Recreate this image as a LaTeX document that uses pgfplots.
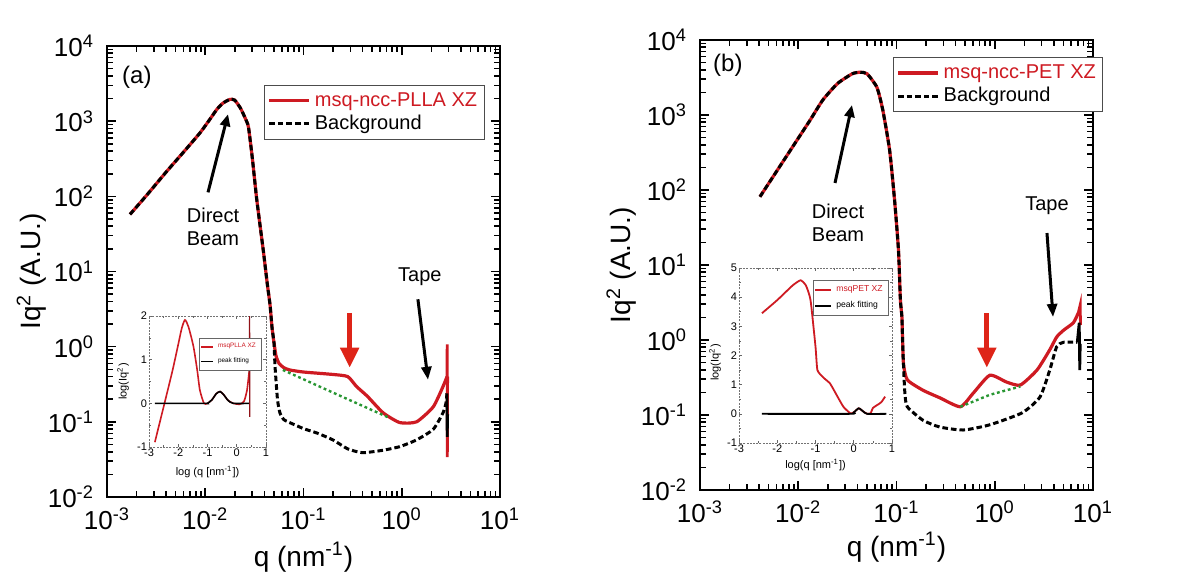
\documentclass[border=0pt]{standalone}
\usepackage{fontspec}
\setmainfont{Liberation Sans}
\usepackage{pgfplots}
\pgfplotsset{compat=1.18}
\usetikzlibrary{arrows.meta}

\definecolor{curvered}{RGB}{206,26,34}
\definecolor{arrowred}{RGB}{222,36,24}
\definecolor{fitgreen}{RGB}{40,150,50}

\newcommand{\sus}[1]{\textsuperscript{#1}}

\tikzset{
  redline/.style={curvered, line width=1.6pt},
  bgline/.style={black, line width=1.5pt, dash pattern=on 2.8pt off 1.5pt},
  greenline/.style={fitgreen, line width=1.2pt, dash pattern=on 1.4pt off 1.4pt},
}

\begin{document}
\begin{tikzpicture}
\useasboundingbox (0,0) rectangle (594pt,287.5pt);

% ---------------- panel (a) ----------------
\begin{loglogaxis}[
  at={(53.5pt,39pt)}, anchor=south west,
  scale only axis, width=196.5pt, height=225.5pt,
  xmin=1e-3, xmax=10, ymin=1e-2, ymax=1e4,
  xtick={1e-3,1e-2,1e-1,1,10},
  xticklabels={10\sus{-3},10\sus{-2},10\sus{-1},10\sus{0},10\sus{1}},
  ytick={1e-2,1e-1,1,10,100,1000,1e4},
  yticklabels={10\sus{-2},10\sus{-1},10\sus{0},10\sus{1},10\sus{2},10\sus{3},10\sus{4}},
  extra x ticks={0.002,0.003,0.004,0.005,0.006,0.007,0.008,0.009,
    0.02,0.03,0.04,0.05,0.06,0.07,0.08,0.09,0.2,0.3,0.4,0.5,0.6,0.7,0.8,0.9,
    2,3,4,5,6,7,8,9},
  extra y ticks={0.02,0.03,0.04,0.05,0.06,0.07,0.08,0.09,0.2,0.3,0.4,0.5,0.6,0.7,0.8,0.9,
    2,3,4,5,6,7,8,9,20,30,40,50,60,70,80,90,200,300,400,500,600,700,800,900,
    2000,3000,4000,5000,6000,7000,8000,9000},
  extra x tick labels={}, extra y tick labels={},
  extra x tick style={major tick length=2.2pt},
  extra y tick style={major tick length=2.2pt},
  major tick length=4.5pt,
  tick style={draw=black, line width=0.8pt},
  axis on top,
  axis line style={line width=1.3pt},
  ticklabel style={font=\fontsize{13}{13}\selectfont},
  yticklabel style={xshift=-3pt},
  xticklabel style={yshift=-2pt},
  label style={font=\fontsize{14}{14}\selectfont},
  xlabel={q (nm\sus{-1})},
  ylabel={Iq\sus{2} (A.U.)},
  xlabel style={at={(axis description cs:0.5,-0.133)}, anchor=center},
  ylabel style={at={(axis description cs:-0.192,0.5)}, anchor=center},
  legend cell align=left,
  legend style={at={(0.40,0.914)}, anchor=north west, draw=black!70, line width=0.5pt,
    font=\fontsize{10}{11}\selectfont, inner sep=1.5pt, row sep=-1pt},
  legend image code/.code={\draw[#1] (0pt,0pt) -- (20pt,0pt);},
]
\addplot[redline, smooth, tension=0.35] coordinates {
 (0.001714,57.5) (0.002512,102) (0.003981,209) (0.006310,417) (0.008913,708)
 (0.01122,1072) (0.01318,1445) (0.01514,1738) (0.01786,1950) (0.01995,1905)
 (0.02291,1479) (0.02570,1072) (0.02754,832) (0.0302,316) (0.03342,91.2)
 (0.0389,19.5) (0.04266,7.08) (0.04571,3.55) (0.04786,1.778) (0.05012,1.122)
 (0.05248,0.759) (0.05623,0.603) (0.0631,0.525) (0.0724,0.49) (0.1,0.46)
 (0.1995,0.427) (0.2818,0.40) (0.3467,0.295) (0.4467,0.219) (0.6457,0.132)
 (0.955,0.0977) (1.413,0.100) (2.089,0.158) (2.630,0.295) (2.884,0.398)
};
\addlegendentry{\textcolor{curvered}{msq-ncc-PLLA XZ}}
\addplot[bgline, smooth, tension=0.35] coordinates {
 (0.001714,57.5) (0.002512,102) (0.003981,209) (0.006310,417) (0.008913,708)
 (0.01122,1072) (0.01318,1445) (0.01514,1738) (0.01786,1950) (0.01995,1905)
 (0.02291,1479) (0.02570,1072) (0.02754,832) (0.0302,316) (0.03342,91.2)
 (0.0389,19.5) (0.04266,7.08) (0.04571,3.55) (0.04786,1.778) (0.05012,1.122)
 (0.0513,0.55) (0.05433,0.20) (0.05754,0.1318) (0.0631,0.107) (0.07244,0.0977)
 (0.1,0.0813) (0.138,0.0708) (0.1995,0.0575) (0.2818,0.0437) (0.3981,0.0389)
 (0.631,0.0417) (0.955,0.0468) (1.413,0.0575) (2.089,0.0794) (2.630,0.1318)
 (2.818,0.178) (2.884,0.240)
};
\addlegendentry{Background}
% noisy ends of the two scans
\addplot[curvered, line width=1.4pt, forget plot] coordinates {
 (2.884,0.398) (2.90,1.07) (2.91,0.0339) (2.93,0.40)
};
\addplot[black, line width=1.4pt, forget plot] coordinates {
 (2.884,0.240) (2.90,0.0631) (2.93,0.126)
};
\addplot[greenline, forget plot] coordinates {
 (0.06166,0.490) (0.1995,0.245) (0.7586,0.112)
};
% annotations
\node[font=\fontsize{12}{12}\selectfont] at (rel axis cs:0.076,0.931) {(a)};
\node[font=\fontsize{10}{11.5}\selectfont, align=center] at (axis cs:0.0120,39.8) {Direct\\Beam};
\draw[black, line width=1.5pt, -{Triangle[width=5pt,length=6pt]}]
  (axis cs:0.01067,113) -- (axis cs:0.01706,1239);
\node[font=\fontsize{10}{10}\selectfont] at (axis cs:1.53,8.5) {Tape};
\draw[black, line width=1.5pt, -{Triangle[width=5pt,length=6.5pt]}]
  (axis cs:1.46,4.27) -- (axis cs:1.85,0.363);
\draw[arrowred, line width=2.5pt, -{Triangle[width=9pt,length=10pt]}]
  (axis cs:0.295,2.82) -- (axis cs:0.295,0.525);
\end{loglogaxis}

% inset of panel (a)
\begin{axis}[
  at={(74.5pt,64pt)}, anchor=south west, scale only axis, width=58.5pt, height=65.5pt,
  xmin=-3, xmax=1, xtick={-3,-2,-1,0,1},
  ymin=-1, ymax=2, ytick={-1,0,1,2},
  axis line style={black!55, line width=0.4pt, dash pattern=on 1pt off 0.6pt},
  axis background/.style={fill=white},
  major tick length=1.5pt, minor tick length=0.8pt,
  minor x tick num=1, minor y tick num=1,
  tick style={draw=black!60, line width=0.3pt},
  /pgf/number format/assume math mode=true,
  ticklabel style={font=\fontsize{5.5}{5.5}\selectfont, inner sep=0.8pt},
  label style={font=\fontsize{5.5}{6}\selectfont},
  xlabel={log (q [nm\sus{-1}])}, ylabel={log(Iq\sus{2})},
  xlabel style={at={(axis description cs:0.5,-0.19)}, anchor=center},
  ylabel style={at={(axis description cs:-0.222,0.5)}, anchor=center},
  legend cell align=left,
  legend style={at={(0.427,0.832)}, anchor=north west, draw=black!60, line width=0.3pt,
    inner sep=0.6pt, row sep=-0.6pt, font=\fontsize{3.2}{3.4}\selectfont},
  legend image code/.code={\draw[#1] (0pt,0pt) -- (6pt,0pt);},
]
\addplot[curvered, line width=0.8pt, smooth, tension=0.4] coordinates {
 (-2.8,-0.89) (-2.5,-0.08) (-2.2,0.74) (-2.0,1.35) (-1.88,1.72) (-1.77,1.91)
 (-1.65,1.75) (-1.48,1.30) (-1.35,0.75) (-1.26,0.30) (-1.12,0.0) (-1.0,0.0)
 (-0.85,0.08) (-0.7,0.22) (-0.57,0.27) (-0.45,0.20) (-0.3,0.07) (-0.12,0.0)
 (0.1,-0.02) (0.25,0.05) (0.35,0.30) (0.42,0.70)
};
\addlegendentry{\textcolor{curvered}{msqPLLA XZ}}
\addplot[black, line width=0.8pt, smooth, tension=0.4] coordinates {
 (-2.8,0) (-1.12,0) (-1.0,0.0) (-0.85,0.08) (-0.7,0.22) (-0.57,0.27)
 (-0.45,0.20) (-0.3,0.07) (-0.12,0.0) (0.45,0.0)
};
\addlegendentry{peak fitting}
\addplot[curvered!70!black, line width=0.6pt, forget plot] coordinates {
 (0.42,0.70) (0.44,2.0) (0.445,-0.31)
};
\end{axis}

% ---------------- panel (b) ----------------
\begin{loglogaxis}[
  at={(350pt,42.5pt)}, anchor=south west,
  scale only axis, width=196.5pt, height=225pt,
  xmin=1e-3, xmax=10, ymin=1e-2, ymax=1e4,
  xtick={1e-3,1e-2,1e-1,1,10},
  xticklabels={10\sus{-3},10\sus{-2},10\sus{-1},10\sus{0},10\sus{1}},
  ytick={1e-2,1e-1,1,10,100,1000,1e4},
  yticklabels={10\sus{-2},10\sus{-1},10\sus{0},10\sus{1},10\sus{2},10\sus{3},10\sus{4}},
  extra x ticks={0.002,0.003,0.004,0.005,0.006,0.007,0.008,0.009,
    0.02,0.03,0.04,0.05,0.06,0.07,0.08,0.09,0.2,0.3,0.4,0.5,0.6,0.7,0.8,0.9,
    2,3,4,5,6,7,8,9},
  extra y ticks={0.02,0.03,0.04,0.05,0.06,0.07,0.08,0.09,0.2,0.3,0.4,0.5,0.6,0.7,0.8,0.9,
    2,3,4,5,6,7,8,9,20,30,40,50,60,70,80,90,200,300,400,500,600,700,800,900,
    2000,3000,4000,5000,6000,7000,8000,9000},
  extra x tick labels={}, extra y tick labels={},
  extra x tick style={major tick length=2.2pt},
  extra y tick style={major tick length=2.2pt},
  major tick length=4.5pt,
  tick style={draw=black, line width=0.8pt},
  axis on top,
  axis line style={line width=1.3pt},
  ticklabel style={font=\fontsize{13}{13}\selectfont},
  yticklabel style={xshift=-3pt},
  xticklabel style={yshift=-2pt},
  label style={font=\fontsize{14}{14}\selectfont},
  xlabel={q (nm\sus{-1})},
  ylabel={Iq\sus{2} (A.U.)},
  xlabel style={at={(axis description cs:0.5,-0.127)}, anchor=center},
  ylabel style={at={(axis description cs:-0.2,0.5)}, anchor=center},
  legend cell align=left,
  legend style={at={(0.491,0.962)}, anchor=north west, draw=black!70, line width=0.5pt,
    font=\fontsize{10}{11}\selectfont, inner sep=1.5pt, row sep=-1pt},
  legend image code/.code={\draw[#1] (0pt,0pt) -- (20pt,0pt);},
]
\addplot[redline, smooth, tension=0.35] coordinates {
 (0.004074,81.3) (0.00631,195) (0.009772,468) (0.01318,851) (0.01778,1585)
 (0.02512,2630) (0.03548,3548) (0.04266,3715) (0.05012,3548) (0.0631,2344)
 (0.07244,1175) (0.08511,339) (0.0955,74.1) (0.1047,15.85) (0.1096,3.39)
 (0.1135,2.0) (0.1175,0.501) (0.1288,0.295) (0.1862,0.2138) (0.2754,0.1698)
 (0.4467,0.1288) (0.6026,0.195) (0.8913,0.339) (1.318,0.275) (1.820,0.251)
 (2.692,0.398) (3.631,0.741) (4.266,1.096) (5.012,1.349) (6.310,1.698)
 (7.079,2.291)
};
\addlegendentry{\textcolor{curvered}{msq-ncc-PET XZ}}
\addplot[bgline, smooth, tension=0.35] coordinates {
 (0.004074,81.3) (0.00631,195) (0.009772,468) (0.01318,851) (0.01778,1585)
 (0.02512,2630) (0.03548,3548) (0.04266,3715) (0.05012,3548) (0.0631,2344)
 (0.07244,1175) (0.08511,339) (0.0955,74.1) (0.1047,15.85) (0.1096,3.39)
 (0.1135,2.0) (0.1175,0.501) (0.1216,0.1995) (0.1288,0.1288) (0.1862,0.0851)
 (0.2754,0.0692) (0.4786,0.0631) (0.8913,0.0741) (1.905,0.1072) (2.884,0.1738)
 (3.631,0.398) (4.266,0.813) (5.012,0.933) (6.918,0.933)
};
\addlegendentry{Background}
% noisy ends of the two scans
\addplot[curvered, line width=1.4pt, forget plot] coordinates {
 (7.079,2.291) (7.413,2.951) (7.45,1.585)
};
\addplot[black, line width=1.4pt, forget plot] coordinates {
 (6.918,0.933) (7.244,1.698) (7.328,0.398) (7.413,0.891)
};
\addplot[greenline, forget plot] coordinates {
 (0.4467,0.1288) (0.8913,0.186) (1.820,0.24)
};
\node[font=\fontsize{12}{12}\selectfont] at (rel axis cs:0.071,0.944) {(b)};
\node[font=\fontsize{10}{11.5}\selectfont, align=center] at (axis cs:0.0254,36.3) {Direct\\Beam};
\draw[black, line width=1.5pt, -{Triangle[width=5pt,length=6pt]}]
  (axis cs:0.02366,124) -- (axis cs:0.03524,1358);
\node[font=\fontsize{10}{10}\selectfont] at (axis cs:3.40,61.2) {Tape};
\draw[black, line width=1.5pt, -{Triangle[width=5pt,length=6.5pt]}]
  (axis cs:3.40,26.7) -- (axis cs:3.92,2.03);
\draw[arrowred, line width=2.5pt, -{Triangle[width=9pt,length=10pt]}]
  (axis cs:0.83,2.29) -- (axis cs:0.83,0.427);
\end{loglogaxis}

% inset of panel (b)
\begin{axis}[
  at={(369.5pt,66pt)}, anchor=south west, scale only axis, width=76.5pt, height=87.5pt,
  xmin=-3, xmax=1, xtick={-3,-2,-1,0,1},
  ymin=-1, ymax=5, ytick={-1,0,1,2,3,4,5},
  axis line style={black!55, line width=0.4pt, dash pattern=on 1pt off 0.6pt},
  axis background/.style={fill=white},
  major tick length=1.5pt, minor tick length=0.8pt,
  minor x tick num=1, minor y tick num=1,
  tick style={draw=black!60, line width=0.3pt},
  /pgf/number format/assume math mode=true,
  ticklabel style={font=\fontsize{5.5}{5.5}\selectfont, inner sep=0.8pt},
  label style={font=\fontsize{5.5}{6}\selectfont},
  xlabel={log(q [nm\sus{-1}])}, ylabel={log(Iq\sus{2})},
  xlabel style={at={(axis description cs:0.5,-0.126)}, anchor=center},
  ylabel style={at={(axis description cs:-0.157,0.46)}, anchor=center},
  legend cell align=left,
  legend style={at={(0.484,0.931)}, anchor=north west, draw=black!60, line width=0.3pt,
    inner sep=0.6pt, row sep=-0.6pt, font=\fontsize{4.3}{4.6}\selectfont},
  legend image code/.code={\draw[#1] (0pt,0pt) -- (8pt,0pt);},
]
\addplot[curvered, line width=0.9pt, smooth, tension=0.3] coordinates {
 (-2.4,3.45) (-2.0,3.9) (-1.6,4.4) (-1.39,4.58) (-1.25,4.4) (-1.13,3.9)
 (-1.0,2.3) (-0.95,1.5) (-0.8,1.25) (-0.62,1.04) (-0.45,0.65) (-0.27,0.24)
 (-0.09,0.02) (0.0,0.05) (0.13,0.19) (0.25,0.08) (0.35,0.0) (0.44,0.02)
 (0.5,0.2) (0.61,0.30) (0.72,0.40) (0.82,0.59)
};
\addlegendentry{\textcolor{curvered}{msqPET XZ}}
\addplot[black, line width=0.9pt, smooth, tension=0.3] coordinates {
 (-2.4,0) (-0.09,0) (0.0,0.05) (0.13,0.19) (0.25,0.08) (0.35,0.0) (0.85,0.0)
};
\addlegendentry{peak fitting}
\end{axis}
\end{tikzpicture}
\end{document}
